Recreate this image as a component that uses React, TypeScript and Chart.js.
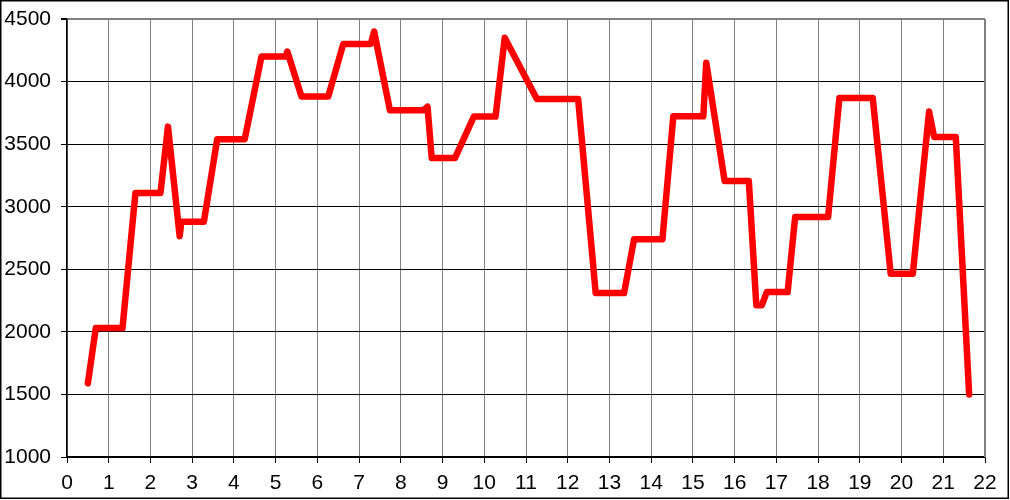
import React, { useEffect, useRef } from "react";
import { Chart, registerables } from "chart.js";

Chart.register(...registerables);

const xValues = [
  0.5, 0.69, 1.33, 1.64, 2.24, 2.42, 2.7, 2.74, 3.28, 3.6, 4.26, 4.66, 5.24, 5.28,
  5.62, 6.26, 6.62, 7.28, 7.36, 7.74, 8.54, 8.64, 8.74, 9.3, 9.75, 10.27, 10.49,
  11.26, 12.25, 12.67, 13.35, 13.59, 14.27, 14.53, 15.25, 15.32, 15.76, 16.34,
  16.52, 16.65, 16.77, 17.27, 17.45, 18.24, 18.51, 19.31, 19.74, 20.27, 20.66,
  20.78, 21.3, 21.62,
];
const yValues = [
  1590, 2030, 2030, 3110, 3110, 3640, 2765, 2880, 2880, 3540, 3540, 4200, 4200, 4240,
  3880, 3880, 4300, 4300, 4400, 3770, 3770, 3800, 3390, 3390, 3720, 3720, 4350,
  3860, 3860, 2310, 2310, 2740, 2740, 3722, 3722, 4150, 3205, 3205,
  2212, 2212, 2318, 2318, 2918, 2918, 3868, 3868, 2464, 2464, 3760,
  3558, 3558, 1500,
];
const xMin = 0;
const xMax = 22;
const yMin = 1000;
const yMax = 4500;

export default function App() {
  const ref = useRef<HTMLCanvasElement | null>(null);
  useEffect(() => {
    document.body.style.margin = "0";
    const canvas = ref.current!;
    const outerBorder = {
      id: "outerBorder",
      afterDraw(chart: any) {
        const ctx = chart.ctx;
        ctx.save();
        ctx.strokeStyle = "#000";
        ctx.lineWidth = 1.5;
        ctx.strokeRect(0.75, 0.75, 1007.5, 497.5);
        ctx.restore();
      },
    };
    const font = { family: "'Liberation Sans', Arial, sans-serif", size: 21 };
    const chart = new Chart(canvas, {
      type: "line",
      data: {
        datasets: [
          {
            data: xValues.map((x, i) => ({ x, y: yValues[i] })),
            borderColor: "#ff0000",
            borderWidth: 6.5,
            borderCapStyle: "round",
            borderJoinStyle: "round",
            pointRadius: 0,
            fill: false,
            tension: 0,
          },
        ],
      },
      options: {
        animation: false,
        responsive: false,
        maintainAspectRatio: false,
        layout: { padding: { left: 0, top: 19, right: 25, bottom: 0 } },
        plugins: { legend: { display: false }, tooltip: { enabled: false } },
        scales: {
          x: {
            type: "linear",
            min: xMin,
            max: xMax,
            afterFit(scale: any) {
              scale.height = 43;
              scale.paddingLeft = 0;
              scale.paddingRight = 0;
            },
            ticks: {
              stepSize: 1,
              color: "#000",
              padding: 8,
              maxRotation: 0,
              autoSkip: false,
              font,
              callback: (v: any) => String(v),
            },
            grid: {
              color: "#808080",
              lineWidth: 1,
              tickLength: 6,
              tickColor: "#000",
              drawTicks: true,
            },
            border: { color: "#000", width: 1.5 },
          },
          y: {
            type: "linear",
            min: yMin,
            max: yMax,
            afterFit(scale: any) {
              scale.width = 67;
              scale.paddingTop = 0;
              scale.paddingBottom = 0;
            },
            ticks: {
              stepSize: 500,
              color: "#000",
              padding: 10,
              font,
              callback: (v: any) => String(v),
            },
            grid: {
              color: (c: any) => (c.tick && c.tick.value === yMax ? "#808080" : "#000"),
              lineWidth: (c: any) => (c.tick && c.tick.value === yMax ? 2 : 1),
              tickLength: 6,
              tickColor: "#000",
            },
            border: { color: "#000", width: 1.5 },
          },
        },
      },
      plugins: [
        outerBorder,
        {
          id: "rightBorder",
          beforeDatasetsDraw(chart: any) {
            const { ctx, chartArea } = chart;
            ctx.save();
            ctx.strokeStyle = "#808080";
            ctx.lineWidth = 2;
            ctx.beginPath();
            ctx.moveTo(chartArea.right, chartArea.top);
            ctx.lineTo(chartArea.right, chartArea.bottom);
            ctx.stroke();
            ctx.restore();
          },
        },
      ],
    } as any);
    return () => chart.destroy();
  }, []);
  return <canvas ref={ref} width={1010} height={500} style={{ display: "block" }} />;
}
